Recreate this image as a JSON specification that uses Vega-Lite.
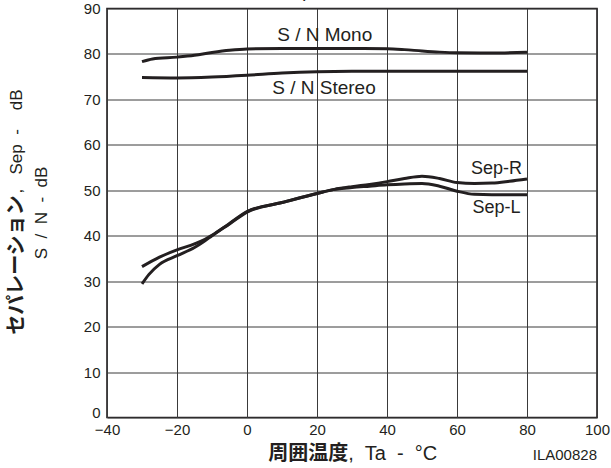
{
  "$schema": "https://vega.github.io/schema/vega-lite/v6.json",
  "autosize": {"type": "none"},
  "width": 490,
  "height": 409,
  "padding": {"left": 107, "top": 8.5, "right": 14, "bottom": 50.5},
  "background": "white",
  "config": {
    "view": {"stroke": "#231f20", "strokeWidth": 1.6},
    "font": "Liberation Sans",
    "text": {"font": "Liberation Sans, Noto Sans CJK JP", "color": "#231f20"}
  },
  "layer": [
    {"data": {"values": [
      {"s": "Mono", "t": -30, "v": 78.3}, {"s": "Mono", "t": -27, "v": 78.9}, {"s": "Mono", "t": -20, "v": 79.3},
      {"s": "Mono", "t": -15, "v": 79.7}, {"s": "Mono", "t": -10, "v": 80.3}, {"s": "Mono", "t": -5, "v": 80.8},
      {"s": "Mono", "t": 0, "v": 81.1}, {"s": "Mono", "t": 10, "v": 81.2}, {"s": "Mono", "t": 20, "v": 81.2},
      {"s": "Mono", "t": 30, "v": 81.2}, {"s": "Mono", "t": 40, "v": 81.15}, {"s": "Mono", "t": 45, "v": 80.95},
      {"s": "Mono", "t": 50, "v": 80.65}, {"s": "Mono", "t": 55, "v": 80.4}, {"s": "Mono", "t": 60, "v": 80.25},
      {"s": "Mono", "t": 70, "v": 80.2}, {"s": "Mono", "t": 80, "v": 80.4},
      {"s": "Stereo", "t": -30, "v": 74.8}, {"s": "Stereo", "t": -20, "v": 74.7}, {"s": "Stereo", "t": -10, "v": 74.9},
      {"s": "Stereo", "t": 0, "v": 75.3}, {"s": "Stereo", "t": 10, "v": 75.8}, {"s": "Stereo", "t": 20, "v": 76.1},
      {"s": "Stereo", "t": 30, "v": 76.2}, {"s": "Stereo", "t": 80, "v": 76.2},
      {"s": "Sep-R", "t": -30, "v": 33.2}, {"s": "Sep-R", "t": -25, "v": 35.3}, {"s": "Sep-R", "t": -20, "v": 36.9},
      {"s": "Sep-R", "t": -15, "v": 38.2}, {"s": "Sep-R", "t": -12, "v": 39.2}, {"s": "Sep-R", "t": -10, "v": 40.1},
      {"s": "Sep-R", "t": -5, "v": 42.7}, {"s": "Sep-R", "t": 0, "v": 45.3}, {"s": "Sep-R", "t": 10, "v": 47.3},
      {"s": "Sep-R", "t": 20, "v": 49.3}, {"s": "Sep-R", "t": 25, "v": 50.2}, {"s": "Sep-R", "t": 30, "v": 50.8},
      {"s": "Sep-R", "t": 35, "v": 51.3}, {"s": "Sep-R", "t": 40, "v": 51.9}, {"s": "Sep-R", "t": 45, "v": 52.6},
      {"s": "Sep-R", "t": 50, "v": 53.1}, {"s": "Sep-R", "t": 55, "v": 52.6}, {"s": "Sep-R", "t": 60, "v": 51.7},
      {"s": "Sep-R", "t": 65, "v": 51.5}, {"s": "Sep-R", "t": 70, "v": 51.6}, {"s": "Sep-R", "t": 75, "v": 52.0},
      {"s": "Sep-R", "t": 80, "v": 52.5},
      {"s": "Sep-L", "t": -30, "v": 29.4}, {"s": "Sep-L", "t": -28, "v": 31.5}, {"s": "Sep-L", "t": -25, "v": 33.7},
      {"s": "Sep-L", "t": -20, "v": 35.6}, {"s": "Sep-L", "t": -15, "v": 37.4}, {"s": "Sep-L", "t": -12, "v": 38.9},
      {"s": "Sep-L", "t": -10, "v": 40.0}, {"s": "Sep-L", "t": -5, "v": 42.6}, {"s": "Sep-L", "t": 0, "v": 45.2},
      {"s": "Sep-L", "t": 10, "v": 47.3}, {"s": "Sep-L", "t": 20, "v": 49.3}, {"s": "Sep-L", "t": 25, "v": 50.2},
      {"s": "Sep-L", "t": 30, "v": 50.6}, {"s": "Sep-L", "t": 35, "v": 50.9}, {"s": "Sep-L", "t": 40, "v": 51.2},
      {"s": "Sep-L", "t": 45, "v": 51.4}, {"s": "Sep-L", "t": 50, "v": 51.5}, {"s": "Sep-L", "t": 55, "v": 50.9},
      {"s": "Sep-L", "t": 60, "v": 49.8}, {"s": "Sep-L", "t": 65, "v": 49.1}, {"s": "Sep-L", "t": 70, "v": 49.0},
      {"s": "Sep-L", "t": 80, "v": 49.0}
    ]},
      "mark": {"type": "line", "color": "#231f20", "strokeWidth": 3, "interpolate": "monotone"},
      "encoding": {
        "x": {"field": "t", "type": "quantitative",
          "scale": {"domain": [-40, 100], "nice": false, "zero": false},
          "axis": {"values": [-40, -20, 0, 20, 40, 60, 80, 100], "title": null, "grid": true, "gridColor": "#3a3a3a", "gridWidth": 1, "gridOpacity": 1,
            "ticks": false, "domain": false, "labelFontSize": 15, "labelColor": "#231f20", "labelPadding": 5, "labelFont": "Liberation Sans", "labelFlush": false}},
        "y": {"field": "v", "type": "quantitative",
          "scale": {"domain": [0, 90], "nice": false},
          "axis": {"values": [0, 10, 20, 30, 40, 50, 60, 70, 80, 90], "title": null, "grid": true, "gridColor": "#3a3a3a", "gridWidth": 1, "gridOpacity": 1,
            "ticks": false, "domain": false, "labelFontSize": 15, "labelColor": "#231f20", "labelPadding": 7, "labelFont": "Liberation Sans", "labelFlush": false,
            "labelBaseline": {"condition": {"test": "datum.value === 0", "value": "alphabetic"}, "value": "middle"}}},
        "detail": {"field": "s", "type": "nominal"}
      }},
    {"data": {"values": [{}]}, "mark": {"type": "text", "text": "S\u00a0/\u00a0N Mono", "fontSize": 19, "align": "center", "baseline": "middle"},
      "encoding": {"x": {"datum": 22.2}, "y": {"datum": 84.1}}},
    {"data": {"values": [{}]}, "mark": {"type": "text", "text": "S\u00a0/\u00a0N Stereo", "fontSize": 19, "align": "center", "baseline": "middle"},
      "encoding": {"x": {"datum": 22.0}, "y": {"datum": 72.4}}},
    {"data": {"values": [{}]}, "mark": {"type": "text", "text": "Sep-R", "fontSize": 18, "align": "center", "baseline": "middle"},
      "encoding": {"x": {"datum": 71.3}, "y": {"datum": 54.6}}},
    {"data": {"values": [{}]}, "mark": {"type": "text", "text": "Sep-L", "fontSize": 18, "align": "center", "baseline": "middle"},
      "encoding": {"x": {"datum": 71.3}, "y": {"datum": 46.0}}},
    {"data": {"values": [{}]}, "mark": {"type": "text", "text": "セパレーション, S\u00a0/\u00a0N - 周囲温度特性", "fontSize": 19, "fontWeight": "bold", "align": "center", "baseline": "bottom"},
      "encoding": {"x": {"datum": 22.9}, "y": {"datum": 91.5}}},
    {"data": {"values": [{}]}, "mark": {"type": "text", "text": "周囲温度", "font": "Noto Sans CJK JP", "fontSize": 20, "fontWeight": "bold", "align": "right", "baseline": "middle"},
      "encoding": {"x": {"datum": 28.9}, "y": {"datum": -8.0}}},
    {"data": {"values": [{}]}, "mark": {"type": "text", "text": ",\u00a0\u00a0Ta\u00a0\u00a0-\u00a0\u00a0°C", "fontSize": 20, "align": "left", "baseline": "middle"},
      "encoding": {"x": {"datum": 28.9}, "y": {"datum": -8.0}}},
    {"data": {"values": [{}]}, "mark": {"type": "text", "text": "ILA00828", "fontSize": 15, "align": "right", "baseline": "middle"},
      "encoding": {"x": {"datum": 100}, "y": {"datum": -8.3}}},
    {"data": {"values": [{}]}, "mark": {"type": "text", "text": "セパレーション", "font": "Noto Sans CJK JP", "fontSize": 20, "fontWeight": "bold", "angle": 270, "align": "left", "baseline": "middle"},
      "encoding": {"x": {"datum": -65.8}, "y": {"datum": 18.2}}},
    {"data": {"values": [{}]}, "mark": {"type": "text", "text": ",\u00a0\u00a0\u00a0Sep\u00a0\u00a0-\u00a0\u00a0\u00a0\u00a0dB", "fontSize": 17, "angle": 270, "align": "left", "baseline": "middle"},
      "encoding": {"x": {"datum": -65.8}, "y": {"datum": 49.3}}},
    {"data": {"values": [{}]}, "mark": {"type": "text", "text": "S\u00a0\u00a0/\u00a0\u00a0N\u00a0\u00a0-\u00a0\u00a0dB", "fontSize": 17, "angle": 270, "align": "center", "baseline": "middle"},
      "encoding": {"x": {"datum": -58.6}, "y": {"datum": 45.0}}}
  ]
}
